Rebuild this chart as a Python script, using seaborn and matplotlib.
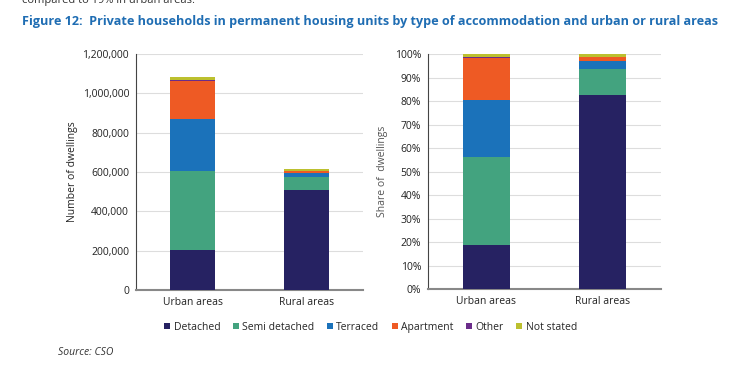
import matplotlib
matplotlib.use("Agg")
import matplotlib.pyplot as plt
import matplotlib.ticker as mticker
from matplotlib.patches import Patch
import numpy as np
import pandas as pd
import seaborn as sns

# data
areas = ["Urban areas", "Rural areas"]
types = ["Detached", "Semi detached", "Terraced", "Apartment", "Other", "Not stated"]
urban = [203000, 402000, 264000, 195000, 4000, 13000]
rural = [507000, 68000, 21500, 9000, 1500, 7500]
colors = ["#262262", "#43A37F", "#1B72BA", "#EE5A24", "#6B2C8A", "#BCC02F"]

counts = pd.DataFrame({"Urban areas": urban, "Rural areas": rural}, index=types)
shares = counts / counts.sum() * 100

sns.set_style("white")
plt.rcParams["font.family"] = ["Open Sans", "DejaVu Sans"]

fig = plt.figure(figsize=(7.41, 3.65), dpi=100)
ax1 = fig.add_axes([0.1835, 0.2055, 0.3063, 0.6466])
ax2 = fig.add_axes([0.5776, 0.2082, 0.3144, 0.6438])


def stacked(ax, table):
    # overlay cumulative totals, biggest first
    cum = table.cumsum()
    for i in range(len(types) - 1, -1, -1):
        df = pd.DataFrame({"area": areas, "value": cum.iloc[i][areas].values})
        sns.barplot(data=df, x="area", y="value", order=areas, color=colors[i],
                    width=0.4, linewidth=0, saturation=1, ax=ax, zorder=3)


stacked(ax1, counts)
stacked(ax2, shares)

for ax in (ax1, ax2):
    ax.set_xlim(-0.5, 1.5)
    ax.set_xticks([-0.5, 0.5, 1.5])
    ax.set_xticklabels([])
    ax.set_xticks([0, 1], minor=True)
    ax.set_xticklabels(areas, minor=True, fontsize=7.5, color="#222222")
    ax.tick_params(axis="x", which="major", length=4, width=0.8, color="#333333", direction="out")
    ax.tick_params(axis="x", which="minor", length=0, pad=5)
    ax.tick_params(axis="y", length=3, width=0.8, color="#333333", labelsize=7.5, pad=2,
                   labelcolor="#222222")
    ax.set_xlabel("")
    ax.grid(axis="y", color="#DDDDDD", linewidth=0.8, zorder=0)
    ax.set_axisbelow(True)
    for s in ("top", "right"):
        ax.spines[s].set_visible(False)
    ax.spines["left"].set_color("#444444")
    ax.spines["left"].set_linewidth(0.8)
    ax.spines["bottom"].set_color("#888888")
    ax.spines["bottom"].set_linewidth(1.5)

ax1.set_ylim(0, 1200000)
ax1.set_yticks(np.arange(0, 1200001, 200000))
ax1.yaxis.set_major_formatter(mticker.FuncFormatter(lambda v, p: f"{v:,.0f}"))
ax1.set_ylabel("Number of dwellings", fontsize=7.5, color="#222222", labelpad=3)

ax2.set_ylim(0, 100)
ax2.set_yticks(np.arange(0, 101, 10))
ax2.yaxis.set_major_formatter(mticker.FuncFormatter(lambda v, p: f"{v:.0f}%"))
ax2.set_ylabel("Share of  dwellings", fontsize=7.5, color="#555555", labelpad=5)

fig.text(0.03, 1.0, "compared to 19% in urban areas.", fontsize=8, color="#333333", va="center")
fig.text(0.03, 0.94, "Figure 12:  Private households in permanent housing units by type of accommodation and urban or rural areas",
         fontsize=9.05, fontweight="bold", color="#1F6DB3", va="center")

handles = [Patch(facecolor=c, edgecolor="none") for c in colors]
fig.legend(handles, types, loc="center", bbox_to_anchor=(0.5, 0.104), ncol=6, frameon=False,
           fontsize=7.5, handlelength=0.6, handleheight=0.6, handletextpad=0.3, columnspacing=1.2)

fig.text(0.078, 0.033, "Source: CSO", fontsize=7.5, style="italic", color="#333333", va="center")

fig.savefig("out.png", dpi=100)
